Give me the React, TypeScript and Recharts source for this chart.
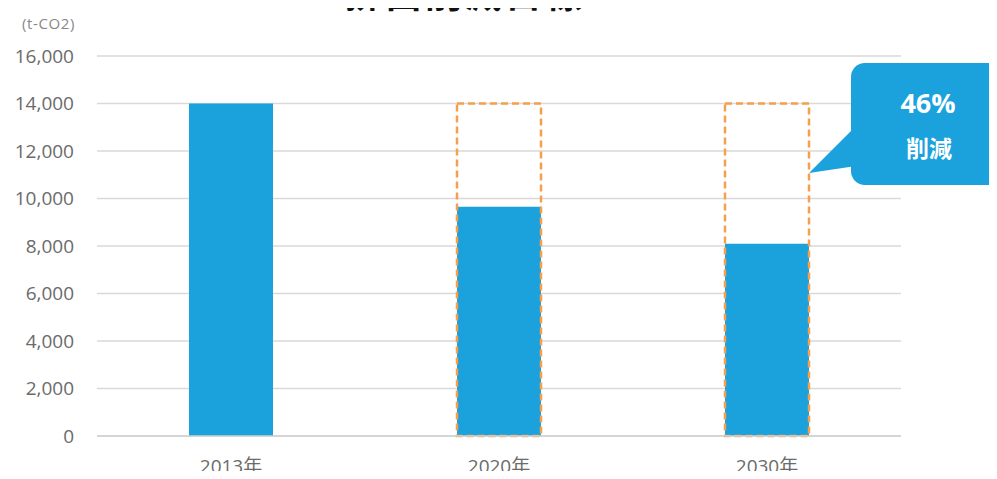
import { BarChart, Bar, XAxis, YAxis, CartesianGrid } from 'recharts';

const years = ['2013年', '2020年', '2030年'];
const emissions = [14000, 9650, 8100];
const targetOutline = [null, 14000, 14000];
const yTicks = [0, 2000, 4000, 6000, 8000, 10000, 12000, 14000, 16000];

const data = years.map((year, i) => ({
  year,
  emissions: emissions[i],
  target: targetOutline[i],
}));

const BLUE = '#1ba1dc';
const ORANGE = '#f5a04c';
const font = '"Open Sans", "Noto Sans CJK JP", sans-serif';

const App = () => {
  return (
    <div style={{ position: 'relative', width: 997, height: 479, margin: -8, overflow: 'hidden', background: '#fff', fontFamily: font }}>
      <div
        style={{
          position: 'absolute',
          top: -35,
          left: 0,
          width: 930,
          textAlign: 'center',
          fontSize: 37,
          fontWeight: 700,
          letterSpacing: 3,
          color: '#111',
          fontFamily: '"Noto Sans CJK JP", sans-serif',
        }}
      >
        排出削減目標
      </div>
      <div style={{ position: 'absolute', top: 13, left: 22, fontSize: 15, letterSpacing: 0.6, color: '#888' }}>(t-CO2)</div>
      <BarChart
        width={997}
        height={479}
        data={data}
        margin={{ top: 56, right: 96, bottom: 13, left: 0 }}
      >
        <CartesianGrid vertical={false} stroke="#d9d9d9" strokeWidth={1.5} />
        <XAxis
          xAxisId="main"
          dataKey="year"
          axisLine={{ stroke: '#d0d0d0', strokeWidth: 1.5 }}
          tickLine={false}
          tickSize={0}
          tickMargin={24}
          height={30}
          tick={{ fill: '#6b6b6b', fontSize: 19, fontFamily: font }}
        />
        <XAxis xAxisId="outline" dataKey="year" hide />
        <YAxis
          width={97}
          domain={[0, 16000]}
          ticks={yTicks}
          axisLine={false}
          tickLine={false}
          tickSize={0}
          tickMargin={23}
          tickFormatter={(v: number) => v.toLocaleString('en-US')}
          tick={{ fill: '#6b6b6b', fontSize: 19, fontFamily: font }}
        />
        <Bar xAxisId="main" dataKey="emissions" fill={BLUE} barSize={84} isAnimationActive={false} />
        <Bar
          xAxisId="outline"
          dataKey="target"
          fill="none"
          stroke={ORANGE}
          strokeWidth={2.5}
          strokeDasharray="7 4"
          barSize={84}
          isAnimationActive={false}
        />
      </BarChart>
      <svg width={997} height={479} style={{ position: 'absolute', top: 0, left: 0, pointerEvents: 'none' }}>
        <path d="M 852 130 L 809 173 L 856 166 Z" fill={BLUE} />
        <rect x={851} y={63} width={170} height={122} rx={14} fill={BLUE} />
        <text x={928} y={113} textAnchor="middle" fill="#fff" fontSize={27} fontWeight={700} fontFamily={font}>46%</text>
        <text x={929} y={157} textAnchor="middle" fill="#fff" fontSize={23} fontWeight={700} fontFamily='"Noto Sans CJK JP", sans-serif'>削減</text>
      </svg>
    </div>
  );
};

export default App;
